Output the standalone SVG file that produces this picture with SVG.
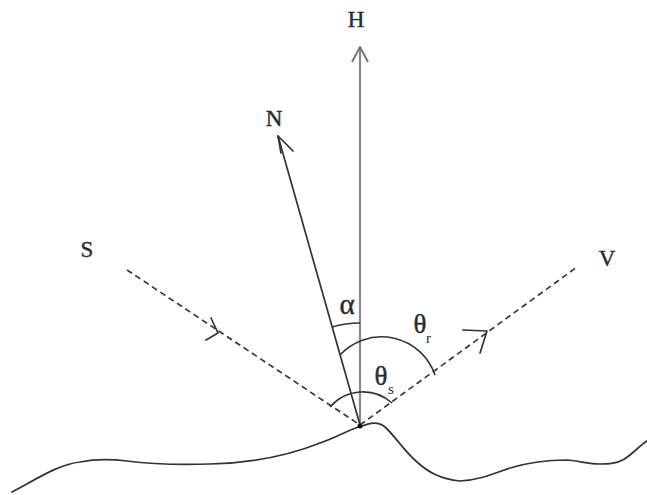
<svg xmlns="http://www.w3.org/2000/svg" width="647" height="495" viewBox="0 0 647 495">
<style>
.lbl{font-family:"Liberation Serif","DejaVu Serif",serif;fill:#2a2a35;text-anchor:middle;stroke:#2a2a35;stroke-width:0.4}
.sub{font-family:"Liberation Serif","DejaVu Serif",serif;fill:#2a2a35}
.dash{fill:none;stroke:#3a3a3a;stroke-width:1.7;stroke-dasharray:6 4}
.solid{fill:none;stroke:#333;stroke-width:1.7;stroke-linecap:round;stroke-linejoin:round}
.arc{fill:none;stroke:#333;stroke-width:1.6}
</style>
<rect width="647" height="495" fill="#fff"/>
<g id="ground">
<path class="solid" d="M12,492 C40,477 60,464 80,462 C95,459 110,459 127,461 C150,464 180,465 210,464 C250,463 290,455 320,443 C340,436 352,428 362,426 C370,423 378,421 385,427 C395,436 405,452 417,462 C428,472 440,479 460,481 C480,480 495,473 510,468 C530,462 545,460 567,460 C580,461 588,464 600,464 C615,464 622,462 630,455 C636,450 641,445 647,441"/>
</g>
<g id="connectors">
<line class="dash" x1="127" y1="270" x2="360" y2="425"/>
<polyline class="solid" points="211,318 218,333 206,340"/>
<line class="dash" x1="360" y1="425" x2="577" y2="267"/>
<polyline class="solid" points="463,330 487,331 480,353"/>
<line x1="360" y1="425" x2="360" y2="48" stroke="#8a8a8a" stroke-width="2.2"/>
<polyline fill="none" stroke="#777" stroke-width="2" stroke-linejoin="round" points="352,62 360,47 368,62"/>
<line class="solid" x1="360" y1="425" x2="278" y2="136"/>
<polyline class="solid" points="281,153 278,136 293,151"/>
</g>
<g id="angles">
<path class="arc" d="M332,327 A102,102 0 0 1 360,323"/>
<path class="arc" d="M340,355 A56.5,56.5 0 0 1 435,375"/>
<path class="arc" d="M330,407 A43.6,43.6 0 0 1 392,403"/>
<circle cx="360" cy="426" r="2.5" fill="#111"/>
</g>
<g id="labels">
<g id="label-H"><text class="lbl" x="356" y="27" font-size="23">H</text></g>
<g id="label-N"><text class="lbl" x="274" y="126" font-size="23">N</text></g>
<g id="label-S"><text class="lbl" x="87" y="257" font-size="23">S</text></g>
<g id="label-V"><text class="lbl" x="607" y="266" font-size="23">V</text></g>
<g id="label-alpha"><text class="lbl" x="347" y="314" font-size="29">α</text></g>
<g id="label-theta-r"><text class="lbl" x="420" y="333" font-size="27">θ</text><text class="sub" x="426" y="343" font-size="15">r</text></g>
<g id="label-theta-s"><text class="lbl" x="381" y="385" font-size="27">θ</text><text class="sub" x="388" y="394" font-size="15">s</text></g>
</g>
</svg>
